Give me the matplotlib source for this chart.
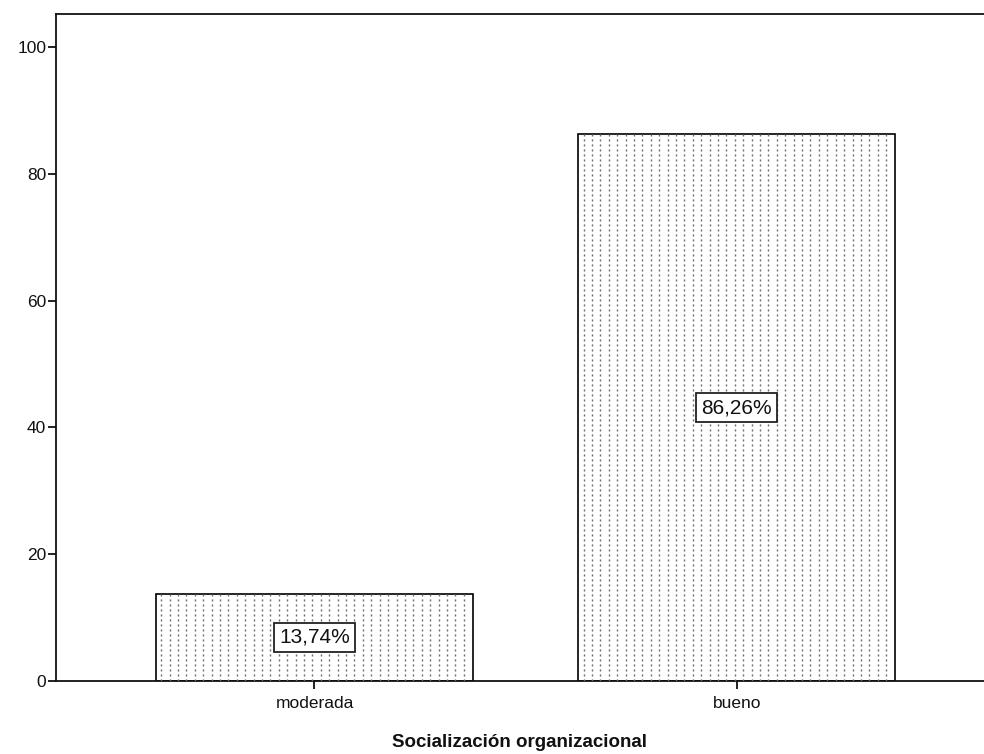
import matplotlib
matplotlib.use('Agg')
import matplotlib.pyplot as plt
import numpy as np

plt.rcParams['font.family'] = ['Liberation Sans', 'DejaVu Sans']

categories = ['moderada', 'bueno']
percents = [13.74, 86.26]
value_labels = ['13,74%', '86,26%']
yticks = [0, 20, 40, 60, 80, 100]

fig = plt.figure(figsize=(9.84, 7.54), dpi=100)
ax = fig.add_axes([0.0569, 0.0968, 0.9431, 0.8846])

x = np.arange(len(categories))
bars = ax.bar(x, percents, width=0.75, color='white', edgecolor='black',
              linewidth=1.2, zorder=2)

# dotted vertical fill inside each bar
step = 0.0199
for bar in bars:
    x0 = bar.get_x()
    x1 = x0 + bar.get_width()
    xs = np.arange(x0 + step * 0.6, x1 - step * 0.2, step)
    lc = ax.vlines(xs, 0, bar.get_height(), colors='#6e6e6e', linewidth=1.0,
                   linestyles=(0, (1.5, 2.1)), zorder=3)
    lc.set_clip_path(bar)

for bar, lab in zip(bars, value_labels):
    ax.text(bar.get_x() + bar.get_width() / 2, bar.get_height() / 2, lab,
            ha='center', va='center', fontsize=15, color='#111111', zorder=5,
            bbox=dict(boxstyle='square,pad=0.25', facecolor='white',
                      edgecolor='#222222', linewidth=1.3))

ax.set_xlim(-0.612, 1.585)
ax.set_ylim(0, 105.2)
ax.set_yticks(yticks)
ax.set_yticklabels([str(v) for v in yticks])
ax.set_xticks(x)
ax.set_xticklabels(categories)
ax.tick_params(axis='both', labelsize=12.5, colors='#111111', length=6, width=1.3)
ax.tick_params(axis='y', pad=1)
ax.tick_params(axis='x', pad=5)

for s in ['left', 'bottom', 'top']:
    ax.spines[s].set_color('#111111')
    ax.spines[s].set_linewidth(1.3)
ax.spines['right'].set_visible(False)

ax.set_xlabel('Socialización organizacional', fontsize=13.5, fontweight='bold',
              color='#111111', labelpad=16)

plt.savefig('out.png', dpi=100)
plt.close()
